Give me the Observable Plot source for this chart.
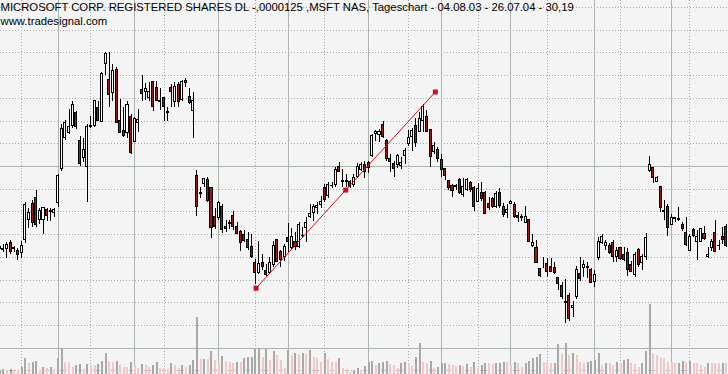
<!DOCTYPE html>
<html><head><meta charset="utf-8">
<script src="https://cdn.jsdelivr.net/npm/d3@7"></script>
<script src="https://cdn.jsdelivr.net/npm/@observablehq/plot@0.6"></script>
<style>
html,body{margin:0;padding:0;background:#f4f4f4;}
#chart{position:relative;width:728px;height:374px;overflow:hidden;background:#f4f4f4;}
#chart svg{position:absolute;left:0;top:0;}
</style></head><body><div id="chart"></div>
<script>
const titleText = "MICROSOFT CORP. REGISTERED SHARES DL -,0000125 ,MSFT NAS, Tageschart - 04.08.03 - 26.07.04 - 30,19";
const siteText = "www.tradesignal.com";

// daily candles, trading-day index 0 = 08.08.2003 ... 199 = 24.05.2004
const opens = [
27.11,27.08,27.09,27.16,27.10,27.07,27.05,27.19,27.41,27.59,
27.65,27.41,27.41,27.52,27.51,27.49,27.60,27.97,28.31,28.37,
28.44,28.59,28.28,28.09,27.99,28.43,28.44,28.64,28.49,29.13,
28.95,28.81,29.06,28.50,28.39,28.37,28.55,28.27,28.48,28.84,
28.82,28.75,28.93,28.86,28.72,28.75,28.60,28.86,28.71,28.90,
28.73,28.94,28.77,28.61,27.89,27.71,27.81,27.85,27.76,27.44,
27.43,27.55,27.33,27.38,27.45,27.33,27.28,27.25,27.19,27.11,
26.94,26.83,26.94,26.85,26.83,26.92,27.19,27.06,27.00,27.21,
27.10,27.17,27.11,27.23,27.32,27.44,27.49,27.54,27.58,27.76,
27.67,27.78,27.80,27.99,27.84,27.83,27.83,27.80,27.88,27.96,
28.02,28.04,28.11,28.36,28.35,28.46,28.28,28.08,28.03,28.02,
28.00,28.11,28.25,28.32,28.44,28.38,28.50,28.55,28.40,28.16,
28.18,28.07,27.97,27.84,27.78,27.77,27.85,27.69,27.74,27.82,
27.76,27.61,27.71,27.71,27.59,27.64,27.55,27.71,27.55,27.49,
27.59,27.58,27.45,27.44,27.38,27.41,27.12,27.10,26.87,26.94,
26.93,26.89,26.88,26.77,26.68,26.51,26.57,26.44,26.56,26.82,
26.88,26.88,26.86,26.73,26.99,27.16,27.12,27.12,27.16,27.00,
27.10,27.03,27.05,26.92,26.81,27.08,26.94,27.00,27.95,27.98,
27.83,27.77,27.51,27.55,27.36,27.42,27.41,27.36,27.27,27.07,
27.30,27.17,27.17,27.26,27.00,27.10,27.27,27.12,27.22,27.33];
const highs = [
27.25,27.14,27.16,27.19,27.12,27.10,27.17,27.60,27.54,27.63,
27.74,27.54,27.55,27.54,27.54,27.54,27.91,28.46,28.51,28.63,
28.71,28.61,28.33,28.31,28.46,28.55,28.73,28.71,29.03,29.25,
29.26,29.12,29.09,28.74,28.65,28.71,28.57,28.54,28.63,29.00,
28.91,28.92,28.94,28.93,28.86,28.76,28.65,28.90,28.92,28.92,
28.95,28.97,28.86,28.81,27.96,27.77,27.87,27.88,27.77,27.54,
27.61,27.58,27.41,27.41,27.50,27.38,27.29,27.30,27.27,27.25,
26.98,27.17,27.03,26.92,27.00,27.17,27.20,27.08,27.14,27.37,
27.32,27.27,27.38,27.33,27.44,27.58,27.58,27.60,27.67,27.80,
27.82,27.82,27.99,28.04,27.97,27.91,27.85,27.91,28.03,28.04,
28.05,28.06,28.35,28.40,28.41,28.50,28.30,28.13,28.05,28.13,
28.10,28.20,28.40,28.42,28.53,28.59,28.68,28.62,28.41,28.26,
28.21,28.13,27.98,27.85,27.80,27.80,27.87,27.87,27.87,27.83,
27.78,27.81,27.82,27.72,27.66,27.66,27.72,27.76,27.59,27.58,
27.62,27.60,27.49,27.47,27.56,27.42,27.25,27.19,26.88,27.00,
26.99,26.99,26.94,26.78,26.72,26.76,26.60,26.51,26.90,27.00,
26.96,26.94,26.88,26.86,27.22,27.25,27.19,27.15,27.19,27.11,
27.11,27.11,27.10,26.95,27.05,27.10,27.03,27.26,28.11,27.99,
27.89,27.78,27.63,27.58,27.47,27.44,27.55,27.38,27.44,27.25,
27.32,27.30,27.32,27.34,27.11,27.20,27.40,27.19,27.33,27.36];
const lows = [
27.05,27.05,26.99,27.03,27.05,26.97,26.99,27.15,27.32,27.33,
27.33,27.36,27.25,27.39,27.39,27.44,27.55,27.95,28.29,28.35,
28.42,28.41,28.00,28.04,27.60,28.42,28.43,28.49,28.48,29.00,
28.65,28.71,28.47,28.36,28.32,28.31,28.13,28.26,28.37,28.71,
28.73,28.71,28.60,28.71,28.62,28.50,28.50,28.65,28.65,28.65,
28.71,28.87,28.68,28.31,27.45,27.65,27.77,27.60,27.21,27.31,
27.41,27.26,27.27,27.31,27.30,27.25,27.06,27.16,27.08,26.99,
26.70,26.81,26.86,26.79,26.81,26.89,26.94,26.89,26.95,27.05,
27.08,27.07,27.10,27.21,27.16,27.43,27.39,27.47,27.54,27.60,
27.65,27.76,27.77,27.93,27.77,27.77,27.76,27.77,27.87,27.95,
27.87,27.92,28.10,28.28,28.26,28.31,28.05,27.93,27.88,27.98,
27.97,28.02,28.22,28.17,28.21,28.37,28.37,28.37,27.99,28.13,
28.04,27.88,27.85,27.74,27.66,27.74,27.69,27.66,27.72,27.71,
27.50,27.60,27.61,27.47,27.51,27.54,27.54,27.54,27.44,27.43,
27.58,27.43,27.38,27.39,27.37,27.16,27.11,26.93,26.78,26.88,
26.78,26.83,26.81,26.64,26.54,26.27,26.29,26.34,26.54,26.73,
26.78,26.77,26.71,26.67,26.97,27.14,27.08,27.03,26.94,26.94,
26.96,26.95,26.79,26.83,26.78,26.89,26.85,26.97,27.93,27.81,
27.82,27.49,27.41,27.23,27.35,27.38,27.39,27.28,27.12,27.06,
27.22,26.97,27.16,27.18,26.99,27.06,27.05,27.08,27.14,27.11];
const closes = [
27.09,27.09,27.14,27.06,27.09,27.03,27.12,27.58,27.49,27.38,
27.36,27.51,27.54,27.45,27.50,27.52,27.89,28.41,28.48,28.43,
28.68,28.43,28.03,28.18,28.43,28.44,28.72,28.50,29.02,29.24,
28.79,29.05,28.48,28.37,28.33,28.68,28.15,28.52,28.51,28.80,
28.85,28.82,28.66,28.72,28.71,28.65,28.59,28.82,28.87,28.71,
28.93,28.92,28.70,28.72,27.55,27.70,27.86,27.62,27.32,27.33,
27.60,27.30,27.31,27.37,27.33,27.26,27.16,27.18,27.10,27.00,
26.83,26.93,26.89,26.81,26.94,27.12,26.95,26.97,27.11,27.17,
27.22,27.11,27.36,27.24,27.38,27.48,27.55,27.56,27.61,27.63,
27.80,27.79,27.96,27.94,27.83,27.84,27.77,27.87,27.99,28.02,
27.94,27.98,28.34,28.38,28.38,28.32,28.08,28.05,27.97,28.11,
28.04,28.17,28.31,28.39,28.26,28.52,28.66,28.38,28.10,28.22,
28.08,27.96,27.89,27.76,27.73,27.78,27.71,27.77,27.85,27.74,
27.55,27.75,27.64,27.48,27.54,27.55,27.70,27.56,27.47,27.52,
27.61,27.44,27.43,27.43,27.44,27.17,27.16,26.94,26.79,26.94,
26.84,26.84,26.83,26.71,26.56,26.50,26.32,26.46,26.86,26.76,
26.92,26.89,26.72,26.81,27.17,27.22,27.16,27.05,27.00,27.07,
26.98,26.97,26.86,26.84,27.03,26.92,27.00,27.21,28.02,27.87,
27.87,27.54,27.50,27.32,27.43,27.43,27.42,27.31,27.14,27.22,
27.23,27.22,27.31,27.20,27.03,27.17,27.06,27.13,27.19,27.12];
// volume, millions of shares
const volumes = [
20,24,20,24,20,15,37,79,54,62,
65,20,37,29,37,25,79,132,62,60,
37,45,50,24,50,45,44,50,65,107,
65,62,65,45,37,36,62,45,29,50,
45,37,45,62,29,28,27,54,45,29,
45,37,45,70,285,74,75,74,115,70,
62,90,67,62,57,62,61,79,84,87,
124,129,87,124,70,115,95,70,30,120,
95,104,100,107,100,120,87,80,62,104,
74,62,61,79,29,25,12,20,29,20,
40,62,65,45,54,62,67,50,45,29,
57,62,57,40,84,154,62,57,67,29,
37,54,57,50,45,40,45,42,50,37,
62,29,45,57,54,50,54,57,62,61,
45,62,54,37,54,67,79,84,100,62,
61,54,57,149,99,154,95,107,95,62,
57,62,67,70,107,45,57,56,45,62,
54,70,74,54,49,37,54,117,350,104,
95,87,79,62,61,54,57,67,62,65,
57,54,45,37,57,56,54,53,54,53];

const monthStartIdx = [16, 37, 60, 79, 101, 121, 140, 163, 184]; // 02.09.03 ... 03.05.04
const midMonthIdx = [6, 25, 45, 70, 89, 112, 131, 150, 170, 189];
const gridSolidPrices = [26, 28];
const gridDottedPrices = [25.75, 26.25, 26.5, 26.75, 27, 27.25, 27.5, 27.75, 28.25, 28.5, 28.75, 29, 29.25, 29.5, 29.75];
const trendIdx = [70.2, 94.75, 119.3];
const trendPrice = [26.66, 27.74, 28.82];

const candles = opens.map((o, i) => ({
  i, o, h: highs[i], l: lows[i], c: closes[i], v: volumes[i],
  volUp: i === 0 || volumes[i] >= volumes[i - 1]
}));
const trend = trendIdx.map((x, j) => ({x, y: trendPrice[j]}));

const W = 728, H = 374;
const xOpt = {type: "linear", domain: [0.227, 199.57], axis: null};
const yPrice = {domain: [25.71, 29.827], axis: null};
const common = {width: W, height: H, margin: 0, x: xOpt, style: {background: "transparent"}};
const FONT = "'Liberation Sans', Arial, sans-serif";

const gridPlot = Plot.plot({
  ...common, y: yPrice,
  marks: [
    Plot.ruleY(gridDottedPrices, {stroke: "#a9a9a9", strokeDasharray: "1,2", shapeRendering: "crispEdges"}),
    Plot.ruleX(midMonthIdx, {stroke: "#a9a9a9", strokeDasharray: "1,2", shapeRendering: "crispEdges"}),
    Plot.ruleY(gridSolidPrices, {stroke: "#aab4aa", shapeRendering: "crispEdges"}),
    Plot.ruleX(monthStartIdx, {stroke: "#aab4aa", shapeRendering: "crispEdges"})
  ]
});

const volPlot = Plot.plot({
  ...common, y: {domain: [0, 1870], axis: null},
  marks: [
    Plot.ruleX(candles, {x: "i", y1: 0, y2: "v", stroke: d => d.volUp ? "#a8a8a8" : "#f0c8c8", strokeWidth: 2, shapeRendering: "crispEdges"})
  ]
});

const pricePlot = Plot.plot({
  ...common, y: yPrice,
  marks: [
    Plot.ruleX(candles, {x: "i", y1: "l", y2: "h", stroke: "#000", strokeWidth: 1, shapeRendering: "crispEdges"}),
    Plot.rect(candles, {
      x1: d => d.i - 0.28, x2: d => d.i + 0.28,
      y1: d => Math.min(d.o, d.c), y2: d => Math.max(d.o, d.c),
      fill: d => d.c < d.o ? "#9a1a1a" : "#ffffff",
      stroke: "#000", strokeWidth: 1, shapeRendering: "crispEdges"
    }),
    Plot.line(trend, {x: "x", y: "y", stroke: "#cc1020", strokeWidth: 1}),
    Plot.dot(trend, {x: "x", y: "y", symbol: "square", r: 2.8, fill: "#cc1020", stroke: "none"}),
    Plot.text([titleText], {text: d => d, frameAnchor: "top-left", lineAnchor: "top", textAnchor: "start", dx: 0, dy: 2, fontSize: 11.3, fontFamily: FONT, fill: "#000"}),
    Plot.text([siteText], {text: d => d, frameAnchor: "top-left", lineAnchor: "top", textAnchor: "start", dx: 0, dy: 16, fontSize: 11.3, fontFamily: FONT, fill: "#000"})
  ]
});

const el = document.getElementById("chart");
el.append(gridPlot, volPlot, pricePlot);
</script></body></html>
